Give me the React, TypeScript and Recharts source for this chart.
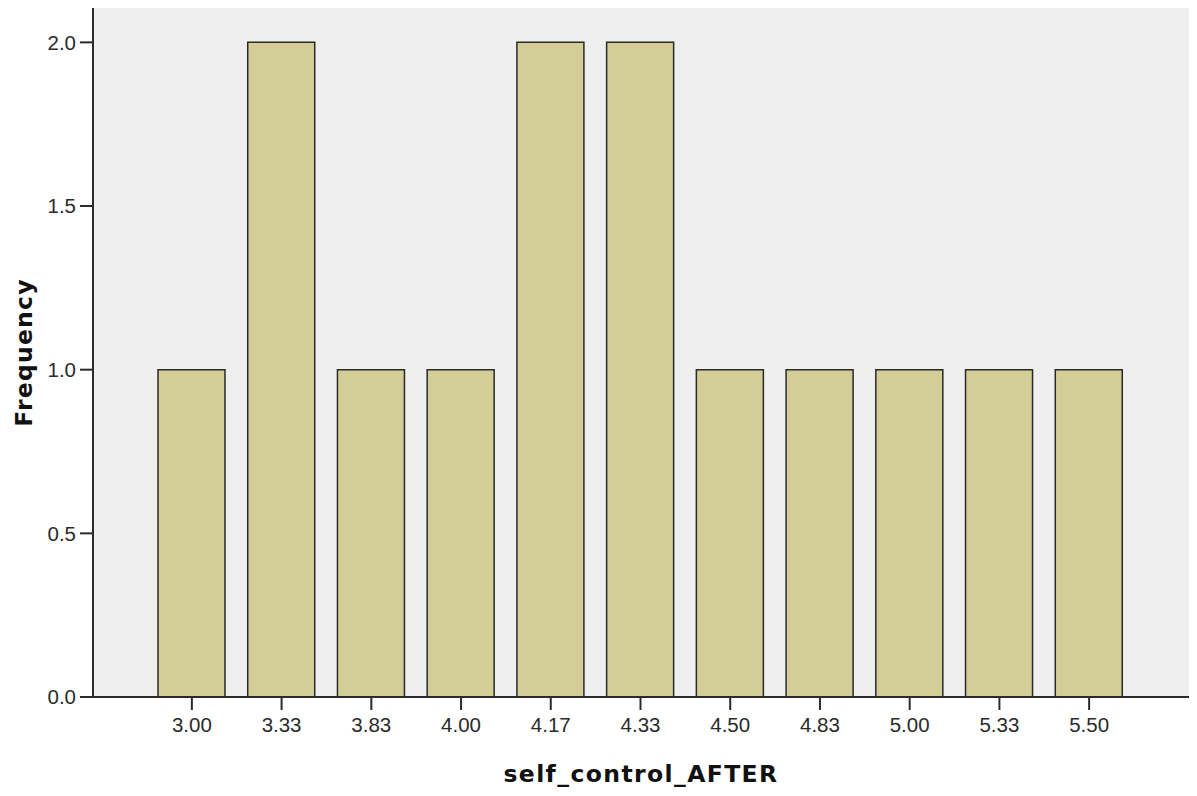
import { BarChart, Bar, XAxis, YAxis, CartesianGrid } from "recharts";

const categories = ["3.00", "3.33", "3.83", "4.00", "4.17", "4.33", "4.50", "4.83", "5.00", "5.33", "5.50"];
const frequency = [1, 2, 1, 1, 2, 2, 1, 1, 1, 1, 1];
const yTicks = [0, 0.5, 1, 1.5, 2];

const data = categories.map((label, i) => ({ label, count: frequency[i] }));

const FONT = "Arial, 'Liberation Sans', sans-serif";
const TITLE_FONT = "'DejaVu Sans', Verdana, sans-serif";
const INK = "#2b2b2b";

const tickStyle = { fontSize: 20.5, fill: INK, fontFamily: FONT };

function XTitle(props: any) {
  const vb = props.viewBox;
  const cx = vb.x + vb.width / 2;
  return (
    <text x={cx} y={782} textAnchor="middle" fontFamily={TITLE_FONT} fontWeight="bold" fontSize={23.5} letterSpacing={1.4} fill="#111">
      self_control_AFTER
    </text>
  );
}

function YTitle(props: any) {
  const vb = props.viewBox;
  const cy = vb.y + vb.height / 2;
  return (
    <text
      x={32}
      y={cy}
      transform={`rotate(-90, 32, ${cy})`}
      textAnchor="middle"
      fontFamily={TITLE_FONT}
      fontWeight="bold"
      fontSize={23.5}
      letterSpacing={1.2}
      fill="#111"
    >
      Frequency
    </text>
  );
}

export default function App() {
  return (
    <div style={{ position: "absolute", left: 0, top: 0, background: "#fff" }}>
      <BarChart width={1197} height={796} data={data} margin={{ top: 8, right: 8, bottom: 0, left: 0 }}>
        <CartesianGrid fill="#efefef" stroke="none" horizontal={false} vertical={false} />
        <XAxis
          dataKey="label"
          height={99}
          padding={{ left: 54, right: 55 }}
          tickSize={13}
          tickMargin={7}
          tick={tickStyle}
          stroke={INK}
          axisLine={{ stroke: INK, strokeWidth: 2 }}
          tickLine={{ stroke: INK, strokeWidth: 2 }}
          label={<XTitle />}
        />
        <XAxis
          xAxisId="top"
          dataKey="label"
          orientation="top"
          height={0}
          tick={false}
          tickLine={false}
          axisLine={{ stroke: "#555", strokeWidth: 2 }}
        />
        <YAxis
          width={93}
          domain={[0, 2.105]}
          ticks={yTicks}
          tickFormatter={(v: number) => v.toFixed(1)}
          tickSize={13}
          tickMargin={4}
          tick={tickStyle}
          stroke={INK}
          axisLine={{ stroke: INK, strokeWidth: 2 }}
          tickLine={{ stroke: INK, strokeWidth: 2 }}
          label={<YTitle />}
        />
        <YAxis
          yAxisId="right"
          orientation="right"
          width={0}
          domain={[0, 2.105]}
          tick={false}
          tickLine={false}
          axisLine={{ stroke: "#444", strokeWidth: 2 }}
        />
        <Bar dataKey="count" fill="#d3ce97" stroke="#2a2a2a" strokeWidth={1.5} barSize={67} isAnimationActive={false} />
      </BarChart>
    </div>
  );
}
